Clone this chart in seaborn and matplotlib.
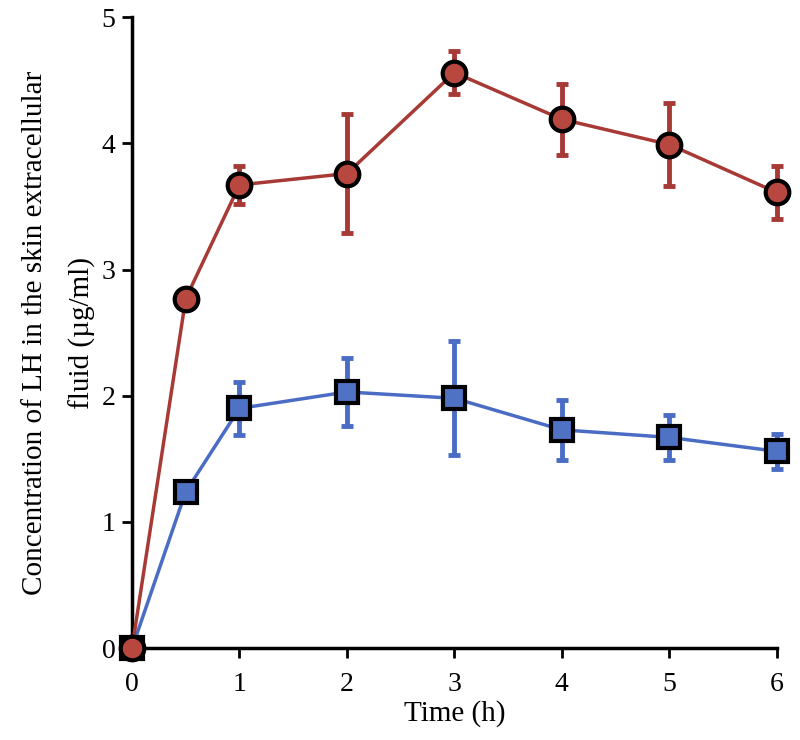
import matplotlib
matplotlib.use("Agg")
import matplotlib.pyplot as plt
import seaborn as sns
import pandas as pd

# Data
time_h = [0, 0.5, 1, 2, 3, 4, 5, 6]
red_mean = [0.0, 2.77, 3.67, 3.76, 4.56, 4.19, 3.99, 3.61]
red_err = [0.0, 0.0, 0.15, 0.47, 0.17, 0.28, 0.33, 0.21]
blue_mean = [0.0, 1.24, 1.90, 2.03, 1.98, 1.73, 1.67, 1.56]
blue_err = [0.0, 0.0, 0.21, 0.27, 0.45, 0.24, 0.18, 0.14]

y_ticks = [0, 1, 2, 3, 4, 5]
x_ticks = [0, 1, 2, 3, 4, 5, 6]

RED = "#a83a36"
RED_FACE = "#b8473f"
BLUE = "#4a6cc4"
BLUE_FACE = "#4f72c4"

sns.set_style("ticks")
plt.rcParams["font.family"] = ["Liberation Serif", "DejaVu Serif"]
plt.rcParams["text.color"] = "black"
plt.rcParams["axes.labelcolor"] = "black"

df = pd.DataFrame({"time": time_h, "red": red_mean, "blue": blue_mean})

fig = plt.figure(figsize=(8, 7.4), dpi=100)
ax = fig.add_axes([0.165, 0.124, 0.806, 0.853])

# blue series (squares)
ax.errorbar(time_h[2:], blue_mean[2:], yerr=blue_err[2:], fmt="none",
            ecolor=BLUE, elinewidth=3.5, capsize=4.5, capthick=3.5, zorder=2,
            clip_on=False)
sns.lineplot(data=df, x="time", y="blue", ax=ax, color=BLUE, linewidth=2.5,
             marker="s", markersize=16, markerfacecolor=BLUE_FACE,
             markeredgecolor="black", markeredgewidth=3, zorder=3,
             clip_on=False)

# red series (circles)
ax.errorbar(time_h[2:], red_mean[2:], yerr=red_err[2:], fmt="none",
            ecolor=RED, elinewidth=3.5, capsize=4.5, capthick=3.5, zorder=4,
            clip_on=False)
sns.lineplot(data=df, x="time", y="red", ax=ax, color=RED, linewidth=2.5,
             marker="o", markersize=17, markerfacecolor=RED_FACE,
             markeredgecolor="black", markeredgewidth=3, zorder=5,
             clip_on=False)

ax.set_xlim(0, 6)
ax.set_ylim(0, 5)
ax.set_xticks(x_ticks)
ax.set_yticks(y_ticks)
ax.tick_params(labelsize=20, width=2, length=7, direction="out",
               colors="black", labelcolor="black")
ax.tick_params(axis="x", pad=10)
ax.tick_params(axis="y", pad=5)
for side in ["left", "bottom"]:
    ax.spines[side].set_linewidth(2.5)
    ax.spines[side].set_color("black")
sns.despine(ax=ax)

ax.set_xlabel("Time (h)", fontsize=21, labelpad=2)
ax.set_ylabel("Concentration of LH in the skin extracellular\nfluid (µg/ml)",
              fontsize=21, linespacing=2.0, labelpad=4)

fig.savefig("out.png", dpi=100)
